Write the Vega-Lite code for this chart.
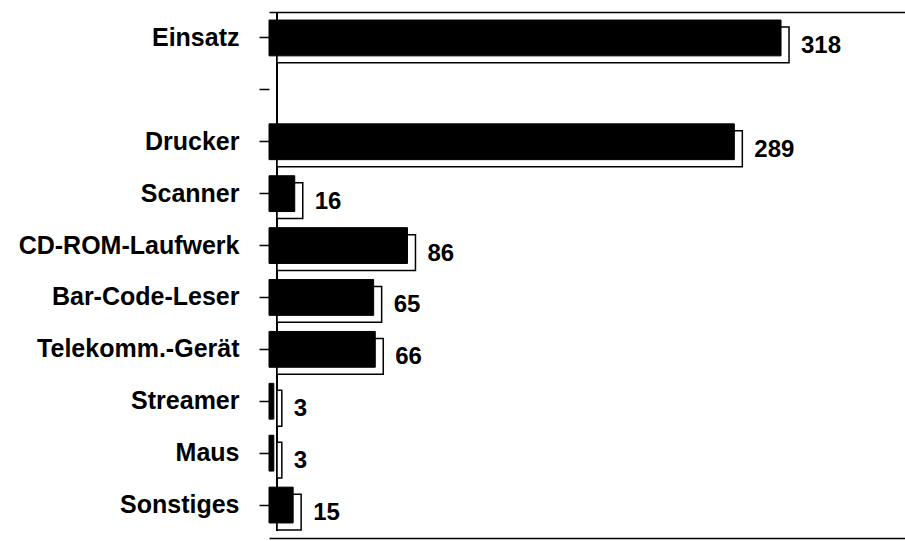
{
  "$schema": "https://vega.github.io/schema/vega-lite/v6.json",
  "autosize": {"type": "none"},
  "padding": {"left": 269, "top": 12, "right": 0, "bottom": 10},
  "width": 636,
  "height": 519,
  "background": "white",
  "view": {"stroke": null},
  "config": {
    "font": "Liberation Sans",
    "axis": {"grid": false}
  },
  "data": {
    "values": [
      {"kategorie": "Einsatz", "anzahl": 318},
      {"kategorie": " ", "anzahl": null},
      {"kategorie": "Drucker", "anzahl": 289},
      {"kategorie": "Scanner", "anzahl": 16},
      {"kategorie": "CD-ROM-Laufwerk", "anzahl": 86},
      {"kategorie": "Bar-Code-Leser", "anzahl": 65},
      {"kategorie": "Telekomm.-Gerät", "anzahl": 66},
      {"kategorie": "Streamer", "anzahl": 3},
      {"kategorie": "Maus", "anzahl": 3},
      {"kategorie": "Sonstiges", "anzahl": 15}
    ]
  },
  "encoding": {
    "y": {
      "field": "kategorie",
      "type": "nominal",
      "sort": null,
      "scale": {
        "domain": ["Einsatz", " ", "Drucker", "Scanner", "CD-ROM-Laufwerk", "Bar-Code-Leser", "Telekomm.-Gerät", "Streamer", "Maus", "Sonstiges"],
        "paddingInner": 0.31,
        "paddingOuter": 0.155
      },
      "axis": {
        "title": null,
        "domain": false,
        "ticks": true,
        "tickSize": 10,
        "tickColor": "black",
        "tickWidth": 1.5,
        "labelPadding": 20,
        "labelLimit": 0,
        "labelFont": "Liberation Sans",
        "labelFontSize": 25,
        "labelFontWeight": "bold",
        "labelColor": "black"
      }
    }
  },
  "layer": [
    {
      "mark": {"type": "rule", "color": "black", "strokeWidth": 1.5, "xOffset": 8},
      "encoding": {
        "x": {"datum": 0, "type": "quantitative", "scale": {"domain": [0, 395], "nice": false, "zero": true}, "axis": null},
        "y": null
      }
    },
    {
      "mark": {"type": "bar", "fill": "white", "stroke": "black", "strokeWidth": 1.5, "xOffset": 8, "x2Offset": 8, "yOffset": 7, "y2Offset": 7},
      "encoding": {
        "x": {
          "field": "anzahl", "type": "quantitative",
          "scale": {"domain": [0, 395], "nice": false, "zero": true},
          "axis": {"orient": "top", "title": null, "labels": false, "ticks": false, "domain": true, "domainColor": "black", "domainWidth": 1.5, "grid": false}
        }
      }
    },
    {
      "mark": {"type": "bar", "fill": "black", "stroke": "black", "strokeWidth": 1},
      "encoding": {
        "x": {
          "field": "anzahl", "type": "quantitative",
          "scale": {"domain": [0, 395], "nice": false, "zero": true},
          "axis": {"orient": "bottom", "offset": 7, "title": null, "labels": false, "ticks": false, "domain": true, "domainColor": "black", "domainWidth": 1.5, "grid": false}
        }
      }
    },
    {
      "mark": {"type": "text", "align": "left", "baseline": "middle", "dx": 20, "dy": 8, "font": "Liberation Sans", "fontSize": 24, "fontWeight": "bold", "color": "black"},
      "encoding": {
        "x": {"field": "anzahl", "type": "quantitative", "scale": {"domain": [0, 395], "nice": false, "zero": true}, "axis": null},
        "text": {"field": "anzahl", "type": "quantitative"}
      }
    }
  ],
  "resolve": {"axis": {"x": "independent"}}
}
